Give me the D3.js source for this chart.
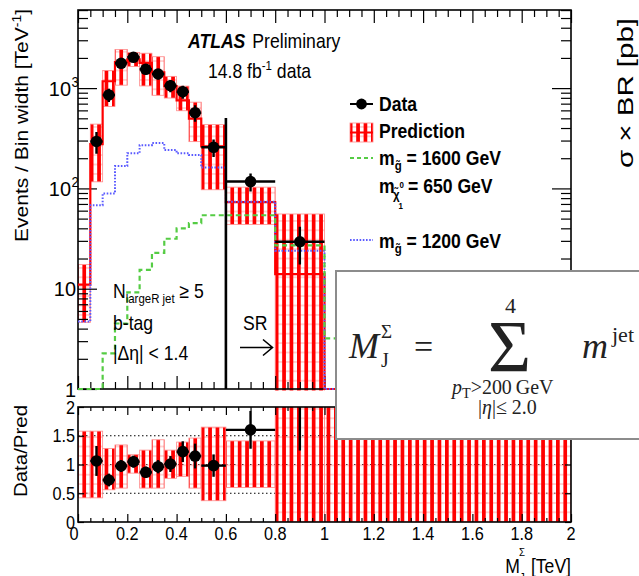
<!DOCTYPE html>
<html><head><meta charset="utf-8">
<script src="https://cdn.jsdelivr.net/npm/d3@7"></script>
<style>body{margin:0;background:#fff}svg{display:block}</style>
</head><body>
<svg id="c" width="639" height="576"></svg>
<script>
// ---------------- data ----------------
const binEdges   = [0,0.05,0.1,0.15,0.2,0.25,0.3,0.35,0.4,0.45,0.5,0.6,0.8,1.0,2.0];
const dataValues = [null,294,855,1767,2030,1540,1383,1057,921,569,257,117,29.4,null];
const dataErrors = [null,72,130,188,201,175,166,145,136,107,51,24,12,null];
const predValues = [11,277,1171,1814,1935,1782,1438,1048,753,496,262,73,14,0];
const predBandHigh = [1.58,1.58,1.28,1.34,1.17,1.25,1.43,1.25,1.39,1.46,1.65,1.41,3.97,2.0];
const predBandLow  = [0.42,0.42,0.56,0.59,0.85,0.59,0.59,0.76,0.79,0.59,0.37,0.60,0,0];
const signal1200 = [4.7,68,89,167,224,270,283,241,224,215,162,73.5,23.9,0];
const signal1600 = [1,1,2.27,4.5,9.2,15.4,22.8,31.5,40,45,54,54,27,3.2];
const xTickValues = [0,0.2,0.4,0.6,0.8,1,1.2,1.4,1.6,1.8,2];
const xTickLabels = ["0","0.2","0.4","0.6","0.8","1","1.2","1.4","1.6","1.8","2"];
const ratioTickValues = [0,0.5,1,1.5,2];
const ratioTickLabels = ["0","0.5","1","1.5","2"];
const logTickValues = [1,10,100,1000];
const logTickLabels = [["1",""],["10",""],["10","2"],["10","3"]];

// ---------------- setup ----------------
const FONT = "'Liberation Sans', Arial, Helvetica, sans-serif";
const SERIF = "'Liberation Serif', 'Times New Roman', serif";
const SX = 0.88;
const svg = d3.select("#c");
const L = 78, R = 571, UT = 10, UB = 389, LT = 407, LB = 522;
const x = d3.scaleLinear().domain([0, 2]).range([L, R]);
const yU = d3.scaleLog().domain([1, 6010]).range([UB, UT]);
const yR = d3.scaleLinear().domain([0, 2]).range([LB, LT]);
const yv = v => v > 0 ? yU(v) : UB;

const bins = predValues.map((p, i) => ({
  x0: binEdges[i], x1: binEdges[i+1], pred: p, hi: predBandHigh[i], lo: predBandLow[i],
  data: dataValues[i], err: dataErrors[i], s1200: signal1200[i], s1600: signal1600[i]
}));

const defs = svg.append("defs");
const pat = defs.append("pattern").attr("id","hatch").attr("patternUnits","userSpaceOnUse")
  .attr("width",7.4).attr("height",9.4).attr("x",1);
pat.append("line").attr("x1",0).attr("x2",7.4).attr("y1",4.7).attr("y2",4.7)
  .attr("stroke","#ffa8a8").attr("stroke-width",1);
pat.append("rect").attr("x",0).attr("y",0).attr("width",3.7).attr("height",9.4).attr("fill","#ff0000");
defs.append("clipPath").attr("id","clipU").append("rect").attr("x",L).attr("y",UT).attr("width",R-L).attr("height",UB-UT+1.5);
defs.append("clipPath").attr("id","clipL").append("rect").attr("x",L).attr("y",LT).attr("width",R-L).attr("height",LB-LT);

function text(parent, x0, y0, size, o = {}) {
  const t = parent.append("text")
    .attr("transform", `translate(${x0},${y0}) scale(${o.sx ?? SX},1)`)
    .attr("font-family", o.family || FONT).attr("font-size", size)
    .attr("text-anchor", o.anchor || "start").attr("fill", o.fill || "#000");
  if (o.bold) t.attr("font-weight", "bold");
  if (o.italic) t.attr("font-style", "italic");
  if (o.t !== undefined) t.text(o.t);
  return t;
}

// ---------------- upper panel ----------------
const up = svg.append("g");
const upC = up.append("g").attr("clip-path","url(#clipU)");
upC.selectAll("rect.band").data(bins.filter(d => d.pred > 0)).join("rect")
  .attr("x", d => x(d.x0)).attr("width", d => x(d.x1) - x(d.x0))
  .attr("y", d => yU(d.pred * d.hi))
  .attr("height", d => (d.pred * d.lo > 0 ? yU(d.pred * d.lo) : UB + 5) - yU(d.pred * d.hi))
  .attr("fill","url(#hatch)").attr("stroke","#ff8a8a").attr("stroke-width",0.8);

function stepPts(key) {
  const pts = bins.map(d => [d.x0, d[key]]);
  pts.push([bins[bins.length-1].x1, bins[bins.length-1][key]]);
  return pts;
}
const stepLine = d3.line().x(d => x(d[0])).y(d => yv(d[1])).curve(d3.curveStepAfter);

// axes ticks (upper)
function ticks(g, axis) { g.call(axis); g.select(".domain").remove(); g.selectAll("line").attr("stroke-width",1.2); }
const minorLog = [];
[1,10,100,1000].forEach(dd => { for (let k = 2; k <= 9; k++) if (k*dd < 6010) minorLog.push(k*dd); });
const minorX = d3.range(0, 41).map(i => i * 0.05).filter(v => Math.abs(v*5 - Math.round(v*5)) > 1e-6);
ticks(up.append("g").attr("transform",`translate(${L},0)`), d3.axisLeft(yU).tickValues(logTickValues).tickSize(-19).tickFormat(""));
ticks(up.append("g").attr("transform",`translate(${L},0)`), d3.axisLeft(yU).tickValues(minorLog).tickSize(-10).tickFormat(""));
ticks(up.append("g").attr("transform",`translate(${R},0)`), d3.axisRight(yU).tickValues(logTickValues).tickSize(-19).tickFormat(""));
ticks(up.append("g").attr("transform",`translate(${R},0)`), d3.axisRight(yU).tickValues(minorLog).tickSize(-10).tickFormat(""));
ticks(up.append("g").attr("transform",`translate(0,${UT})`), d3.axisTop(x).tickValues(xTickValues).tickSize(-13).tickFormat(""));
ticks(up.append("g").attr("transform",`translate(0,${UT})`), d3.axisTop(x).tickValues(minorX).tickSize(-7).tickFormat(""));
ticks(up.append("g").attr("transform",`translate(0,${UB})`), d3.axisBottom(x).tickValues(xTickValues).tickSize(-13).tickFormat(""));
ticks(up.append("g").attr("transform",`translate(0,${UB})`), d3.axisBottom(x).tickValues(minorX).tickSize(-7).tickFormat(""));
up.append("rect").attr("x",L).attr("y",UT).attr("width",R-L).attr("height",UB-UT)
  .attr("fill","none").attr("stroke","#000").attr("stroke-width",1.6);

const upL = up.append("g").attr("clip-path","url(#clipU)");
upL.append("path").attr("d", stepLine(stepPts("pred"))).attr("fill","none").attr("stroke","#ff0000").attr("stroke-width",2.2);
upL.append("path").attr("d", stepLine(stepPts("s1200"))).attr("fill","none").attr("stroke","#5a5aff")
  .attr("stroke-width",2).attr("stroke-dasharray","1.6,1.6");
upL.append("path").attr("d", stepLine(stepPts("s1600"))).attr("fill","none").attr("stroke","#55cc44")
  .attr("stroke-width",2.2).attr("stroke-dasharray","5,3.5");

const dat = bins.filter(d => d.data != null);
upL.selectAll("line.ex").data(dat).join("line")
  .attr("x1", d => x(d.x0)).attr("x2", d => x(d.x1)).attr("y1", d => yU(d.data)).attr("y2", d => yU(d.data))
  .attr("stroke","#000").attr("stroke-width",2.4);
upL.selectAll("line.ey").data(dat).join("line")
  .attr("x1", d => x((d.x0+d.x1)/2)).attr("x2", d => x((d.x0+d.x1)/2))
  .attr("y1", d => yU(d.data + d.err)).attr("y2", d => yU(d.data - d.err))
  .attr("stroke","#000").attr("stroke-width",2.4);
upL.selectAll("circle").data(dat).join("circle")
  .attr("cx", d => x((d.x0+d.x1)/2)).attr("cy", d => yU(d.data)).attr("r",5.8).attr("fill","#000");

// SR line + arrow
up.append("line").attr("x1",x(0.6)).attr("x2",x(0.6)).attr("y1",118).attr("y2",UB).attr("stroke","#000").attr("stroke-width",2.6);
text(up, 243, 330, 20, {t:"SR"});
up.append("path").attr("d","M240,347.5H272M263,339.5L272.5,347.5L263,355.5").attr("fill","none").attr("stroke","#000").attr("stroke-width",1.6);

// upper y labels
logTickValues.forEach((v, i) => {
  const [base, sup] = logTickLabels[i];
  const t = text(svg, sup ? 71 : 76, yU(v) + 7.5, 21, {anchor:"end", sx:0.95});
  t.append("tspan").text(base);
  if (sup) text(svg, 71.5, yU(v) - 1, 14, {t: sup, sx:0.95});
});

// titles
const tt = text(svg, 188, 48, 20, {});
tt.append("tspan").attr("font-weight","bold").attr("font-style","italic").text("ATLAS");
tt.append("tspan").attr("dx",8).text("Preliminary");
const lumi = text(svg, 208, 78, 20, {});
lumi.append("tspan").text("14.8 fb");
lumi.append("tspan").attr("font-size",13).attr("dy",-8).text("-1");
lumi.append("tspan").attr("dy",8).text(" data");

// selection text
const nl = text(svg, 113, 298, 20, {});
nl.append("tspan").text("N");
nl.append("tspan").attr("font-size",13).attr("dy",5).text("largeR jet");
nl.append("tspan").attr("dy",-5).text(" \u2265 5");
text(svg, 113, 330, 20, {t:"b-tag"});
text(svg, 113, 360, 20, {t:"|\u0394\u03b7| < 1.4"});

// legend
const lg = svg.append("g");
lg.append("line").attr("x1",350).attr("x2",373).attr("y1",104).attr("y2",104).attr("stroke","#000").attr("stroke-width",2);
lg.append("circle").attr("cx",361.5).attr("cy",104).attr("r",5.4).attr("fill","#000");
text(lg, 379, 111, 20, {t:"Data", bold:true});
lg.append("rect").attr("x",350).attr("y",123).attr("width",23).attr("height",19).attr("fill","url(#hatch)")
  .attr("stroke","#ff8a8a").attr("stroke-width",0.8);
lg.append("line").attr("x1",350).attr("x2",373).attr("y1",132.5).attr("y2",132.5).attr("stroke","#ff0000").attr("stroke-width",2);
text(lg, 379, 138, 20, {t:"Prediction", bold:true});
lg.append("line").attr("x1",350).attr("x2",373).attr("y1",158).attr("y2",158).attr("stroke","#55cc44")
  .attr("stroke-width",2.2).attr("stroke-dasharray","4,3");
const m1 = text(lg, 379, 165, 20, {bold:true});
m1.append("tspan").text("m");
m1.append("tspan").attr("font-size",13).attr("dy",5).text("g\u0303");
m1.append("tspan").attr("dy",-5).text(" = 1600 GeV");
text(lg, 379, 193, 20, {t:"m", bold:true});
text(lg, 393, 199, 13, {t:"\u03c7\u0303", bold:true});
text(lg, 399.5, 188, 9, {t:"0", bold:true});
text(lg, 398.5, 209, 9, {t:"1", bold:true});
text(lg, 408, 193, 20, {t:"= 650 GeV", bold:true});
lg.append("line").attr("x1",350).attr("x2",373).attr("y1",240).attr("y2",240).attr("stroke","#5a5aff")
  .attr("stroke-width",2).attr("stroke-dasharray","1.6,1.6");
const m2 = text(lg, 379, 248, 20, {bold:true});
m2.append("tspan").text("m");
m2.append("tspan").attr("font-size",13).attr("dy",5).text("g\u0303");
m2.append("tspan").attr("dy",-5).text(" = 1200 GeV");

// y title upper
svg.append("text").attr("transform","translate(28,9) rotate(-90) scale(1,0.88)")
  .attr("font-family",FONT).attr("font-size",21).attr("text-anchor","end")
  .call(t => { t.append("tspan").text("Events / Bin width [TeV");
               t.append("tspan").attr("font-size",14).attr("dy",-8).text("-1");
               t.append("tspan").attr("dy",8).text("]"); });

// ---------------- lower panel ----------------
const lo = svg.append("g");
[0.5,1,1.5].forEach(v => lo.append("line").attr("x1",L).attr("x2",R).attr("y1",yR(v)).attr("y2",yR(v))
  .attr("stroke","#000").attr("stroke-width",1).attr("stroke-dasharray","1.5,2.5"));
const loC = lo.append("g").attr("clip-path","url(#clipL)");
loC.selectAll("rect.rb").data(bins).join("rect")
  .attr("x", d => x(d.x0)).attr("width", d => x(d.x1) - x(d.x0))
  .attr("y", d => yR(d.hi)).attr("height", d => yR(d.lo) - yR(d.hi))
  .attr("fill","url(#hatch)").attr("stroke","#ff8a8a").attr("stroke-width",0.8);
ticks(lo.append("g").attr("transform",`translate(0,${LB})`), d3.axisBottom(x).tickValues(xTickValues).tickSize(-8).tickFormat(""));
ticks(lo.append("g").attr("transform",`translate(0,${LB})`), d3.axisBottom(x).tickValues(minorX).tickSize(-4).tickFormat(""));
ticks(lo.append("g").attr("transform",`translate(0,${LT})`), d3.axisTop(x).tickValues(xTickValues).tickSize(-8).tickFormat(""));
ticks(lo.append("g").attr("transform",`translate(0,${LT})`), d3.axisTop(x).tickValues(minorX).tickSize(-4).tickFormat(""));
ticks(lo.append("g").attr("transform",`translate(${L},0)`), d3.axisLeft(yR).tickValues(ratioTickValues).tickSize(-6).tickFormat(""));
ticks(lo.append("g").attr("transform",`translate(${R},0)`), d3.axisRight(yR).tickValues(ratioTickValues).tickSize(-6).tickFormat(""));
lo.append("rect").attr("x",L).attr("y",LT).attr("width",R-L).attr("height",LB-LT)
  .attr("fill","none").attr("stroke","#000").attr("stroke-width",1.6);

const rdat = bins.filter(d => d.data != null && d.pred > 0).map(d => ({...d, r: d.data / d.pred, re: d.err / d.pred}));
const loL = lo.append("g").attr("clip-path","url(#clipL)");
loL.selectAll("line.ex").data(rdat).join("line")
  .attr("x1", d => x(d.x0)).attr("x2", d => x(d.x1)).attr("y1", d => yR(d.r)).attr("y2", d => yR(d.r))
  .attr("stroke","#000").attr("stroke-width",2.4);
loL.selectAll("line.ey").data(rdat).join("line")
  .attr("x1", d => x((d.x0+d.x1)/2)).attr("x2", d => x((d.x0+d.x1)/2))
  .attr("y1", d => yR(d.r + d.re)).attr("y2", d => yR(d.r - d.re))
  .attr("stroke","#000").attr("stroke-width",2.4);
loL.selectAll("circle").data(rdat).join("circle")
  .attr("cx", d => x((d.x0+d.x1)/2)).attr("cy", d => yR(d.r)).attr("r",5.8).attr("fill","#000");

ratioTickValues.forEach((v, i) => text(svg, 75, yR(v) + 6.5, 18.5, {t: ratioTickLabels[i], anchor:"end"}));
xTickValues.forEach((v, i) => text(svg, x(v) - (v === 0 ? 4 : 0), 540, 18.5, {t: xTickLabels[i], anchor:"middle"}));
svg.append("text").attr("transform","translate(27,451) rotate(-90) scale(1,0.88)")
  .attr("font-family",FONT).attr("font-size",20.5).attr("text-anchor","middle").text("Data/Pred");
// x title
text(svg, 571, 573, 20, {t:"[TeV]", anchor:"end"});
text(svg, 520, 573, 20, {t:"M", anchor:"end"});
text(svg, 519, 556, 11, {t:"\u03a3"});
text(svg, 519.5, 582, 12, {t:"J"});

// right-side fragment
svg.append("text").attr("transform","translate(633,93) rotate(-90)")
  .attr("font-family",FONT).attr("font-size",22).attr("text-anchor","middle")
  .attr("textLength",150).attr("lengthAdjust","spacingAndGlyphs").text("\u03c3 \u00d7 BR [pb]");

// formula box
const fb = svg.append("g");
fb.append("rect").attr("x",336).attr("y",271).attr("width",330).attr("height",168)
  .attr("fill","#fff").attr("stroke","#8c8c8c").attr("stroke-width",2);
const FC = "#222";
text(fb, 349, 358, 36, {t:"M", italic:true, family:SERIF, sx:1, fill:FC});
text(fb, 381, 338, 19, {t:"\u03a3", family:SERIF, sx:1, fill:FC});
text(fb, 381, 367, 20, {t:"J", family:SERIF, sx:1, fill:FC});
text(fb, 414, 358, 34, {t:"=", family:SERIF, sx:1, fill:FC});
text(fb, 488, 372, 74, {t:"\u03a3", family:SERIF, sx:1, fill:FC});
text(fb, 505, 313, 22, {t:"4", family:SERIF, sx:1, fill:FC});
text(fb, 582, 358, 36, {t:"m", italic:true, family:SERIF, sx:1, fill:FC});
text(fb, 612, 342, 22, {t:"jet", family:SERIF, sx:1, fill:FC});
const pt = text(fb, 452, 394, 21, {family:SERIF, sx:0.95, fill:FC});
pt.append("tspan").attr("font-style","italic").text("p");
pt.append("tspan").attr("font-size",15).attr("dy",4).text("T");
pt.append("tspan").attr("dy",-4).text(">200\u2009GeV");
const eta = text(fb, 478, 414, 21, {family:SERIF, sx:0.95, fill:FC});
eta.append("tspan").text("|");
eta.append("tspan").attr("font-style","italic").text("\u03b7");
eta.append("tspan").text("|\u2264 2.0");
</script>
</body></html>
